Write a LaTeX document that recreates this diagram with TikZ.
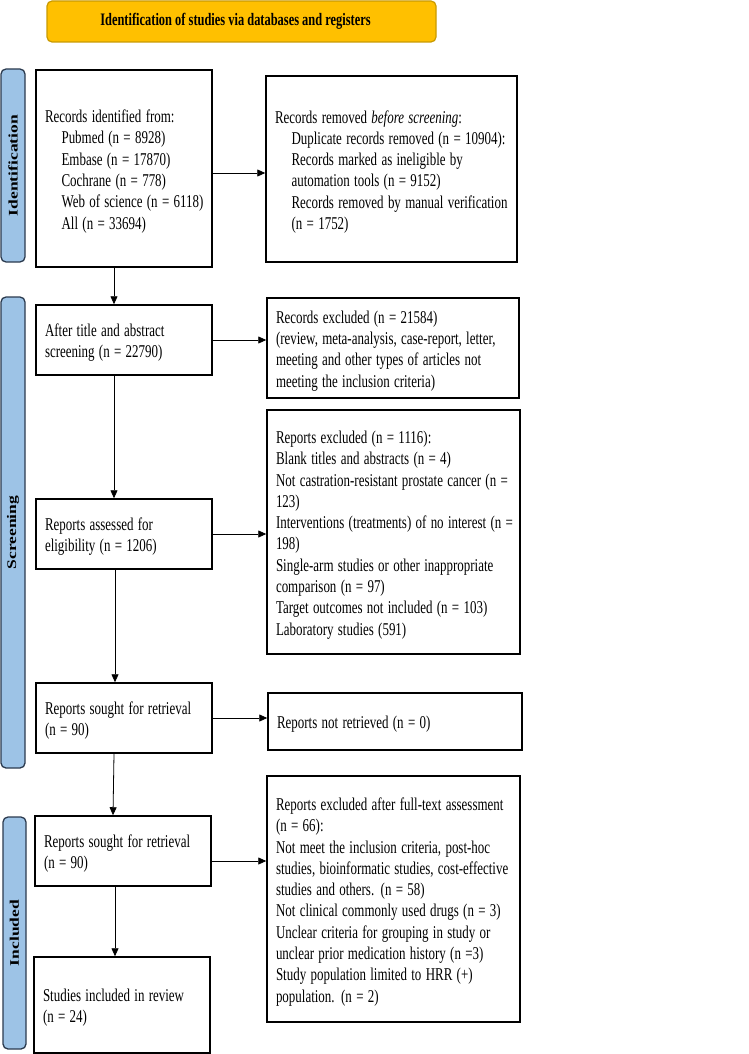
\documentclass[tikz,border=0pt]{standalone}
\usepackage{graphicx}
\usepackage{fontspec}
\setmainfont{Liberation Serif}
\usetikzlibrary{arrows.meta}
\definecolor{titlefill}{HTML}{FFC000}
\definecolor{titleline}{HTML}{C99A00}
\definecolor{labfill}{HTML}{9DC3E6}
\definecolor{labline}{HTML}{2B3A4E}
% narrow text as in the scan
\newcommand{\sqz}[1]{\raisebox{-3pt}[\height][\depth]{\scalebox{0.72}[1]{\begin{tabular}{@{}l@{}}#1\end{tabular}}}}
\newcommand{\ind}{\hspace*{23pt}}

\begin{document}
\begin{tikzpicture} [x=1pt,y=-1pt,mybox/.style={rectangle, draw, line width=1.5pt, align=left, inner xsep=9pt, inner ysep=0pt, font=\fontsize{18}{21.3}\selectfont},mylab/.style={rectangle, rounded corners=5pt, draw=labline, fill=labfill, line width=1.3pt, rotate=90, inner sep=0pt, font=\bfseries\fontsize{17.5}{20}\selectfont},mytitle/.style={rectangle, rounded corners=5pt, draw=titleline, fill=titlefill, line width=1.2pt, font=\bfseries\fontsize{17.5}{20}\selectfont},myarr/.style={-{Triangle[length=8pt,width=7pt]}, line width=0.8pt}]
  \useasboundingbox (0,0) rectangle (748,1054);

  \node[mytitle, minimum width=389pt, minimum height=41pt] (t) at (241.5,21.5) {\scalebox{0.71}[1]{Identification of studies via databases and registers}\hspace*{12pt}};

  % side labels
  \node[mylab, minimum width=193pt, minimum height=24pt] (l1) at (13,165.5) {\scalebox{1}[0.75]{Identification}};
  \node[mylab, minimum width=471pt, minimum height=24pt] (l2) at (13,532.5) {\scalebox{1}[0.75]{Screening}};
  \node[mylab, minimum width=232pt, minimum height=23pt] (l3) at (14.5,933) {\scalebox{1}[0.75]{Included}};

  \node[mybox, text width=158pt, minimum height=197pt] (a) at (124,168.5) {\sqz{Records identified from:\\
    \ind Pubmed (n = 8928)\\
    \ind Embase (n = 17870)\\
    \ind Cochrane (n = 778)\\
    \ind Web of science (n = 6118)\\
    \ind All (n = 33694)}};
  \node[mybox, text width=233pt, minimum height=186pt] (b) at (391.5,169) {\sqz{Records removed \textit{before screening}:\\
    \ind Duplicate records removed (n = 10904):\\
    \ind Records marked as ineligible by\\
    \ind automation tools (n = 9152)\\
    \ind Records removed by manual verification\\
    \ind (n = 1752)}};

  \node[mybox, text width=158pt, minimum height=70pt] (c) at (124,340) {\sqz{After title and abstract\\ screening (n = 22790)}};
  \node[mybox, text width=234pt, minimum height=100pt] (d) at (393,348) {\sqz{Records excluded (n = 21584)\\
    (review, meta-analysis, case-report, letter,\\
    meeting and other types of articles not\\
    meeting the inclusion criteria)}};

  \node[mybox, text width=158pt, minimum height=70pt] (e) at (124,534) {\sqz{Reports assessed for\\ eligibility (n = 1206)}};
  \node[mybox, text width=235pt, minimum height=244pt] (f) at (393.5,532) {\sqz{Reports excluded (n = 1116):\\
    Blank titles and abstracts (n = 4)\\
    Not castration-resistant prostate cancer (n =\\
    123)\\
    Interventions (treatments) of no interest (n =\\
    198)\\
    Single-arm studies or other inappropriate\\
    comparison (n = 97)\\
    Target outcomes not included (n = 103)\\
    Laboratory studies (591)}};

  \node[mybox, text width=158pt, minimum height=70pt] (g) at (124,718) {\sqz{Reports sought for retrieval\\ (n = 90)}};
  \node[mybox, text width=236pt, minimum height=57pt] (h) at (395,721.5) {\sqz{Reports not retrieved (n = 0)}};

  \node[mybox, text width=158pt, minimum height=70pt] (i) at (123,851) {\sqz{Reports sought for retrieval\\ (n = 90)}};
  \node[mybox, text width=235pt, minimum height=246pt] (j) at (393.5,899) {\sqz{Reports excluded after full-text assessment\\
    (n = 66):\\
    Not meet the inclusion criteria, post-hoc\\
    studies, bioinformatic studies, cost-effective\\
    studies and others. (n = 58)\\
    Not clinical commonly used drugs (n = 3)\\
    Unclear criteria for grouping in study or\\
    unclear prior medication history (n =3)\\
    Study population limited to HRR (+)\\
    population. (n = 2)}};

  \node[mybox, text width=158pt, minimum height=96pt] (k) at (122,1005) {\sqz{Studies included in review\\ (n = 24)}};

    \draw[myarr] ([yshift=-4.5pt]a.east) -- ([yshift=-4.5pt]a.east -| b.west);
    \draw[myarr] (c.east) -- (c.east -| d.west);
    \draw[myarr] (e.east) -- (e.east -| f.west);
    \draw[myarr] (g.east) -- (g.east -| h.west);
    \draw[myarr] ([yshift=-10pt]i.east) -- ([yshift=-10pt]i.east -| j.west);

    \draw[myarr] ([xshift=-10pt]a.south) -- ([xshift=-10pt]a.south |- c.north);
    \draw[myarr] ([xshift=-10pt]c.south) -- ([xshift=-10pt]c.south |- e.north);
    \draw[myarr] ([xshift=-9pt]e.south) -- ([xshift=-9pt]e.south |- g.north);
    \draw[myarr] ([xshift=-10pt]g.south) -- ([xshift=-10pt]i.north);
    \draw[myarr] ([xshift=-8pt]i.south) -- ([xshift=-8pt]i.south |- k.north);

\end{tikzpicture}
\end{document}
